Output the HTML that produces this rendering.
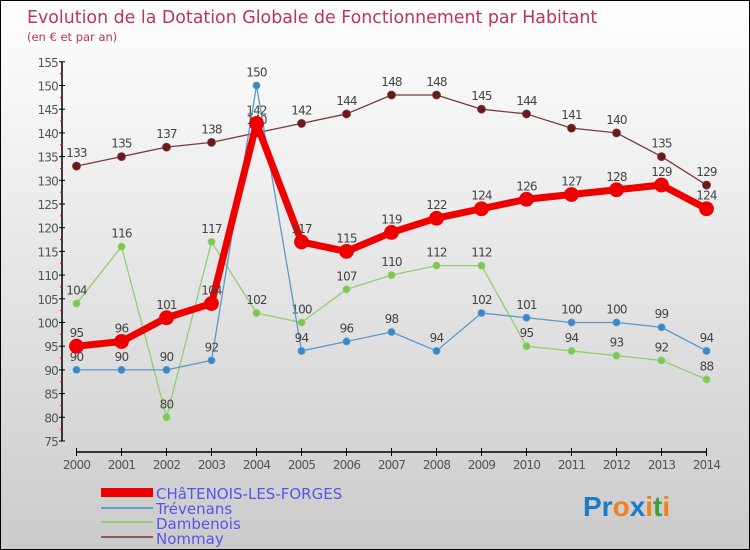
<!DOCTYPE html>
<html><head><meta charset="utf-8"><style>
body{margin:0}
#c{width:748px;height:548px;border:1px solid #000;background:linear-gradient(#fff,#f0f0f0 30%,#cbcbcb);position:relative;font-family:"DejaVu Sans","Liberation Sans",sans-serif;overflow:hidden}
</style></head><body>
<div id="c">
<svg id="s" width="748" height="548">
<text x="26" y="22" font-size="17.4" fill="#c0335a" font-family="DejaVu Sans,sans-serif">Evolution de la Dotation Globale de Fonctionnement par Habitant</text>
<text x="26" y="40" font-size="11.5" fill="#c0335a">(en € et par an)</text>
<g id="axes"></g><g id="series"></g>
<g>
<rect x="100" y="487" width="52" height="9" fill="#e00"/>
<text x="155" y="498" font-size="15" fill="#5555ee">CHâTENOIS-LES-FORGES</text>
<rect x="100" y="506" width="52" height="2" fill="#6a9ec8"/>
<text x="155" y="513" font-size="15" fill="#5555ee">Trévenans</text>
<rect x="100" y="520" width="52" height="2" fill="#90d070"/>
<text x="155" y="528" font-size="15" fill="#5555ee">Dambenois</text>
<rect x="100" y="535" width="52" height="2" fill="#8a5a5a"/>
<text x="155" y="543" font-size="15" fill="#5555ee">Nommay</text>
</g>
<text x="582" y="515" font-size="28" font-weight="bold" font-family="Liberation Sans,sans-serif"><tspan fill="#1a7bc8">Pr</tspan><tspan fill="#f08020">o</tspan><tspan fill="#1a7bc8">x</tspan><tspan fill="#f08020">i</tspan><tspan fill="#40a040">t</tspan><tspan fill="#f08020">i</tspan></text>
</svg></div>
<script>
const years=[2000,2001,2002,2003,2004,2005,2006,2007,2008,2009,2010,2011,2012,2013,2014];
const chatenois=[95,96,101,104,142,117,115,119,122,124,126,127,128,129,124];
const trevenans=[90,90,90,92,150,94,96,98,94,102,101,100,100,99,94];
const dambenois=[104,116,80,117,102,100,107,110,112,112,95,94,93,92,88];
const nommay=[133,135,137,138,140,142,144,148,148,145,144,141,140,135,129];
const yTicks=[75,80,85,90,95,100,105,110,115,120,125,130,135,140,145,150,155];
const NS="http://www.w3.org/2000/svg";
const X=i=>75.5+i*45, Y=v=>440-(v-75)*4.74;
function mk(t,a,p){const e=document.createElementNS(NS,t);for(const k in a)e.setAttribute(k,a[k]);p.appendChild(e);return e;}
const ax=document.getElementById('axes'), sg=document.getElementById('series');
let e=mk('line',{x1:61,y1:Y(155),x2:61,y2:Y(75),stroke:'#000','stroke-width':1.5},ax);

e=mk('line',{x1:X(0),y1:451,x2:X(14),y2:451,stroke:'#000','stroke-width':1.5},ax);

yTicks.forEach(v=>{
 mk('line',{x1:58,y1:Y(v),x2:64,y2:Y(v),stroke:'#000'},ax);
 if(v<155)mk('line',{x1:59,y1:Y(v+2.5),x2:62,y2:Y(v+2.5),stroke:'#e00'},ax);
 const t=mk('text',{x:57,y:Y(v)+5,'text-anchor':'end','font-size':12,fill:'#555','letter-spacing':'-0.8'},ax);
 t.textContent=v;
 
});
years.forEach((y,i)=>{
 mk('line',{x1:X(i),y1:447,x2:X(i),y2:455,stroke:'#000'},ax);
 const t=mk('text',{x:X(i),y:468,'text-anchor':'middle','font-size':12,fill:'#555','letter-spacing':'-0.8'},ax);
 t.textContent=y;
 
});
function series(d,col,w,r,dot,name){
 const g=mk('g',{},sg);
 
 const pl=mk('polyline',{points:d.map((v,i)=>X(i)+','+Y(v)).join(' '),fill:'none',stroke:col,'stroke-width':w,'stroke-linejoin':'round'},g);
 
 d.forEach((v,i)=>{
  const c=mk('circle',{cx:X(i),cy:Y(v),r:r,fill:dot,stroke:col,'stroke-width':0.8},g);
  
  const t=mk('text',{x:X(i),y:Y(v)-9,'text-anchor':'middle','font-size':12,fill:'#444','letter-spacing':'-0.8'},g);
  t.textContent=v;
  
 });
}
series(nommay,'#7a3a3a',1.3,4,'#6a1a1a','nommay');
series(dambenois,'#90d070',1.3,3.5,'#7cc850','dambenois');
series(trevenans,'#5a9ac8',1.3,3.5,'#3a88c8','trevenans');
series(chatenois,'#ee0000',7,7,'#ee0000','chatenois');
</script>
</body></html>
